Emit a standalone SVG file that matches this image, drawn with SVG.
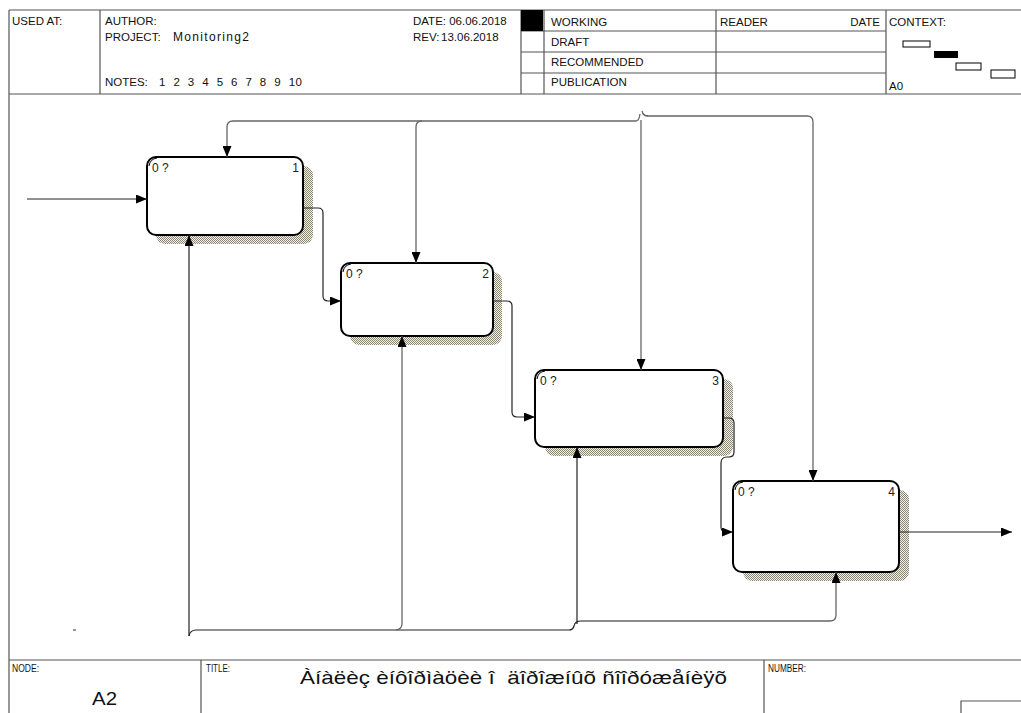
<svg xmlns="http://www.w3.org/2000/svg" width="1021" height="713" viewBox="0 0 1021 713">
<style>
.t{font-family:"Liberation Sans",Arial,sans-serif;font-size:11.5px;fill:#111}
.s{font-family:"Liberation Sans",Arial,sans-serif;font-size:10px;fill:#111}
.frame{stroke:#555;stroke-width:1.2;fill:none}
.box{fill:#fff;stroke:#000;stroke-width:2}
.shadow{fill:url(#dots);stroke:none}
.c{fill:none;stroke:#222;stroke-width:1.2}
.g{fill:none;stroke:#666;stroke-width:1.3}
.a{marker-end:url(#arr)}
.lbl{font-family:"Liberation Sans",Arial,sans-serif;font-size:12px;fill:#222}
</style>
<defs>
<pattern id="dots" width="2" height="2" patternUnits="userSpaceOnUse">
<rect width="2" height="2" fill="#f4f2ec"/>
<rect width="1" height="1" fill="#8a8472"/>
<rect x="1" y="1" width="1" height="1" fill="#8a8472"/>
</pattern>
<marker id="arr" markerUnits="userSpaceOnUse" markerWidth="11" markerHeight="9" refX="11" refY="4.5" orient="auto">
<path d="M0,0 L11,4.5 L0,9 z" fill="#000"/>
</marker>
</defs>
<rect width="1021" height="713" fill="#fff"/>

<g id="frame">
<path class="frame" d="M9,10 H1021 M9,94 H1021 M9,10 V713 M100,10 V94 M521,10 V94 M544,10 V94 M716,10 V94 M886,10 V94 M521,31 H886 M521,52 H886 M521,73 H886"/>
<rect x="521" y="10" width="22" height="21" fill="#000"/>
<rect x="903" y="41" width="27" height="6" fill="#fff" stroke="#000" stroke-width="1"/>
<rect x="934" y="51" width="24" height="7" fill="#000"/>
<rect x="956" y="63" width="25" height="7" fill="#fff" stroke="#000" stroke-width="1"/>
<rect x="991" y="70" width="24" height="8" fill="#fff" stroke="#000" stroke-width="1"/>
<text class="t" x="12" y="25">USED AT:</text>
<text class="t" x="105" y="25">AUTHOR:</text>
<text class="t" x="105" y="41">PROJECT:</text>
<text class="t" x="173" y="41" style="font-size:12px" textLength="76" lengthAdjust="spacing">Monitoring2</text>
<text class="t" x="105" y="86">NOTES:</text>
<text class="t" x="159" y="86" style="white-space:pre" textLength="143" lengthAdjust="spacing">1  2  3  4  5  6  7  8  9  10</text>
<text class="t" x="413" y="25">DATE: 06.06.2018</text>
<text class="t" x="413" y="41">REV:</text>
<text class="t" x="441" y="41">13.06.2018</text>
<text class="t" x="551" y="26">WORKING</text>
<text class="t" x="551" y="46">DRAFT</text>
<text class="t" x="551" y="66">RECOMMENDED</text>
<text class="t" x="551" y="86">PUBLICATION</text>
<text class="t" x="720" y="26">READER</text>
<text class="t" x="880" y="26" text-anchor="end">DATE</text>
<text class="t" x="889" y="26">CONTEXT:</text>
<text class="t" x="889" y="90">A0</text>
</g>

<g id="footer">
<path class="frame" d="M9,660 H1021 M201,660 V713 M764,660 V713 M961,713 V701 H1021"/>
<text class="s" x="12" y="672" textLength="27" lengthAdjust="spacingAndGlyphs">NODE:</text>
<text class="s" x="206" y="672" textLength="24" lengthAdjust="spacingAndGlyphs">TITLE:</text>
<text class="s" x="768" y="672" textLength="38" lengthAdjust="spacingAndGlyphs">NUMBER:</text>
<text x="92" y="705" font-family="Liberation Sans, Arial, sans-serif" font-size="19" fill="#111" textLength="25" lengthAdjust="spacingAndGlyphs">A2</text>
<text x="300" y="684" font-family="Liberation Sans, Arial, sans-serif" font-size="19" fill="#111" style="white-space:pre" textLength="427" lengthAdjust="spacingAndGlyphs">Àíàëèç èíôîðìàöèè î  äîðîæíûõ ñîîðóæåíèÿõ</text>
</g>

<g id="node1">
<rect class="shadow" x="156" y="166" width="157" height="78" rx="9"/>
<rect class="box" x="147" y="157" width="156" height="78" rx="9"/>
<path d="M149,166 Q150,159 157,158" fill="none" stroke="#000" stroke-width="1"/>
<text class="lbl" x="152" y="172">0 ?</text>
<text class="lbl" x="299" y="172" text-anchor="end">1</text>
</g>
<g id="node2">
<rect class="shadow" x="350" y="272" width="152" height="73" rx="9"/>
<rect class="box" x="341" y="263" width="152" height="73" rx="9"/>
<path d="M343,272 Q344,265 351,264" fill="none" stroke="#000" stroke-width="1"/>
<text class="lbl" x="346" y="278">0 ?</text>
<text class="lbl" x="489" y="278" text-anchor="end">2</text>
</g>
<g id="node3">
<rect class="shadow" x="545" y="379" width="188" height="77" rx="9"/>
<rect class="box" x="535" y="370" width="188" height="77" rx="9"/>
<path d="M537,379 Q538,372 545,371" fill="none" stroke="#000" stroke-width="1"/>
<text class="lbl" x="540" y="385">0 ?</text>
<text class="lbl" x="719" y="385" text-anchor="end">3</text>
</g>
<g id="node4">
<rect class="shadow" x="743" y="490" width="166" height="91" rx="9"/>
<rect class="box" x="733" y="481" width="166" height="91" rx="9"/>
<path d="M735,490 Q736,483 743,482" fill="none" stroke="#000" stroke-width="1"/>
<text class="lbl" x="738" y="496">0 ?</text>
<text class="lbl" x="895" y="496" text-anchor="end">4</text>
</g>

<g id="connectors">
<path class="c a" d="M27,199 H147"/>
<path class="g a" d="M636,121 H233 Q227,121 227,127 V157"/>
<path class="g" d="M636,121 Q639,121 640,114 M642,111 Q643,116 648,116"/>
<path class="g a" d="M422,121 Q416,121 416,127 V263"/>
<path class="g a" d="M641,120 V370"/>
<path class="g a" d="M647,116 H807 Q813,116 813,122 V481"/>
<path class="c a" d="M303,208 H318 Q323,208 323,213 V296 Q323,301 328,301 H341"/>
<path class="c a" d="M493,301 H507 Q512,301 512,306 V412 Q512,417 517,417 H535"/>
<path class="c a" d="M723,418 H729 Q734,418 734,423 V452 Q734,457 729,457 H727 Q721,457 721,463 V527 Q721,532 726,532 H733"/>
<path class="c a" d="M899,532 H1012"/>
<path class="c a" d="M189,636 V235"/>
<path class="c" d="M189,636 Q190,630 196,630 H569 Q573,630 574,626 Q575,621 581,621"/>
<path class="g a" d="M581,621 H830 Q836,621 836,615 V572"/>
<path class="g a" d="M396,630 Q402,629 402,624 V336"/>
<path class="c a" d="M577,624 V447"/>
<path d="M73,630 H76" stroke="#333" stroke-width="1"/>
</g>
</svg>
